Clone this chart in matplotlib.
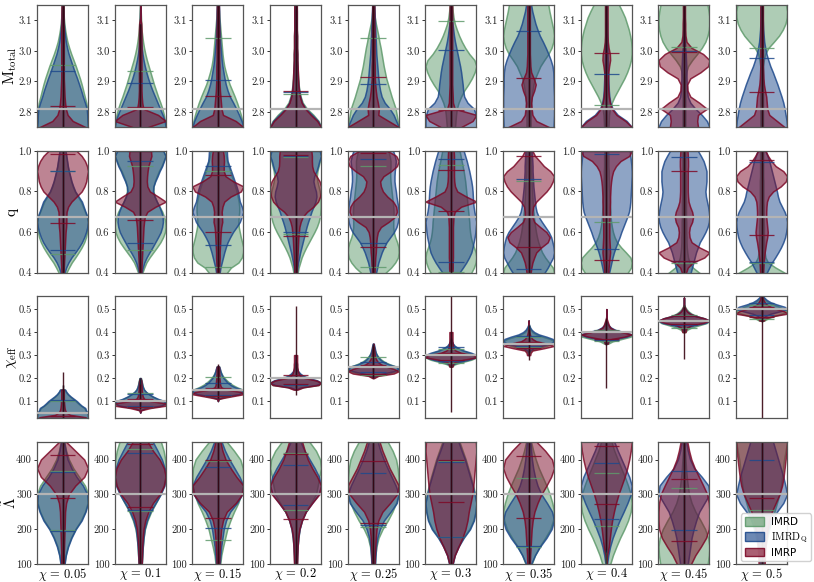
import numpy as np
import matplotlib
matplotlib.use("Agg")
import matplotlib.pyplot as plt
from matplotlib.patches import Patch
from matplotlib.colors import to_rgba

plt.rcParams['font.family'] = 'serif'
plt.rcParams['font.serif'] = ['cmr10', 'DejaVu Serif']
plt.rcParams['mathtext.fontset'] = 'cm'
plt.rcParams['axes.unicode_minus'] = False
plt.rcParams['axes.formatter.use_mathtext'] = True

# ---------------- data ----------------
CHI = [0.05, 0.1, 0.15, 0.2, 0.25, 0.3, 0.35, 0.4, 0.45, 0.5]
CHI_LABELS = ["0.05", "0.1", "0.15", "0.2", "0.25", "0.3", "0.35", "0.4", "0.45", "0.5"]
MODELS = ["IMRD", r"$\mathrm{IMRD_Q}$", "IMRP"]
COLORS = ["#5f9a6c", "#1f4a8c", "#7d0a28"]

TRUE_M = 2.81
TRUE_Q = 0.672
TRUE_LAMBDA = 302

# Row 1: total mass, relative violin widths (0-10) on grid
M_GRID = [2.73, 2.75, 2.77, 2.79, 2.81, 2.83, 2.85, 2.87, 2.89, 2.91, 2.93, 2.95,
          2.97, 2.99, 3.01, 3.03, 3.05, 3.07, 3.09, 3.11, 3.13, 3.15, 3.17]
M_IMRD = [
    [10,10,9.9,9.8,9.7,9.3,8.7,8.1,7.5,6.8,6.0,5.2,4.3,3.4,2.6,1.9,1.4,1.0,0.7,0.5,0.4,0.3,0.2],
    [10,10,9.7,9.3,8.7,7.9,7.0,6.2,5.4,4.7,4.0,3.3,2.6,2.0,1.5,1.1,0.8,0.5,0.4,0.3,0.2,0.1,0.1],
    [10,10,9.6,9.0,8.3,7.5,6.6,5.6,4.6,3.8,3.1,2.5,2.1,1.8,1.6,1.4,1.2,1.0,0.8,0.6,0.4,0.3,0.2],
    [10,10,9,7,4.5,2.8,2,1.5,1.2,1.0,0.9,0.8,0.7,0.7,0.6,0.6,0.6,0.5,0.5,0.5,0.5,0.4,0.4],
    [10,10,9.6,9.2,8.8,8.0,7.2,6.5,5.8,5.1,4.6,4.1,3.7,3.3,2.9,2.4,2.0,1.5,1.0,0.6,0.4,0.3,0.2],
    [1.5,1.6,1.8,2.0,2.3,3.0,4.0,5.2,6.8,8.2,9.3,10,9.2,7.2,5.6,4.3,3.2,2.3,1.5,1.0,0.7,0.5,0.4],
    [0.8,0.8,0.8,0.8,0.9,1.0,1.2,1.5,1.9,2.5,3.5,4.5,6.0,7.6,8.8,9.5,9.8,9.5,9.0,8.5,8.0,7.6,7.0],
    [0.8,0.8,0.9,1.0,1.3,2.0,3.0,4.2,5.4,6.6,7.6,8.4,9.0,9.3,9.3,9.1,8.7,8.2,7.5,6.8,5.8,4.7,3.6],
    [0.5,0.5,0.5,0.5,0.5,0.5,0.5,0.5,0.5,0.5,0.8,1.5,3.0,4.8,6.5,7.8,8.6,9.1,9.3,9.3,9.0,8.6,8.0],
    [0.5,0.5,0.5,0.5,0.5,0.5,0.5,0.5,0.5,0.5,0.5,0.5,0.8,1.3,2.5,4.5,6.4,7.8,8.8,9.3,9.4,9.0,8.5],
]
M_IMRDQ = [
    [10,10,9.8,9.7,9.5,8.8,8.0,7.3,6.5,5.7,4.8,4.0,3.2,2.4,1.8,1.3,1.0,0.7,0.5,0.4,0.3,0.2,0.1],
    [10,10,9.6,8.8,7.8,6.8,5.8,4.8,3.9,3.1,2.4,1.8,1.3,0.9,0.6,0.4,0.3,0.2,0.1,0.1,0.05,0,0],
    [10,10,9.3,8.3,7.2,6.0,4.7,3.8,3.1,2.6,2.2,1.8,1.5,1.3,1.1,0.9,0.8,0.7,0.6,0.5,0.5,0.4,0.4],
    [10,10,8.8,6.5,4.0,2.5,1.8,1.4,1.1,0.9,0.8,0.7,0.6,0.6,0.5,0.5,0.5,0.4,0.4,0.4,0.4,0.3,0.3],
    [10,10,9,8,6.5,4.5,3.3,2.7,2.3,2.0,1.8,1.6,1.4,1.2,1.1,1.0,0.9,0.8,0.7,0.6,0.5,0.4,0.3],
    [10,10,10,9.8,9,6.5,5.2,4.8,4.6,4.3,4.0,3.6,3.1,2.6,2.1,1.6,1.2,0.9,0.6,0.4,0.3,0.2,0.1],
    [9.5,9.6,9.7,9.8,9.8,9.8,9.8,9.7,9.6,9.6,9.5,9.2,8.5,7.6,6.6,5.5,4.3,3.4,2.6,2.0,1.4,1.0,0.7],
    [10,10,8,4.5,2.5,1.6,1.2,1.0,0.9,0.8,0.7,0.6,0.6,0.5,0.5,0.4,0.4,0.3,0.3,0.2,0.2,0.2,0.1],
    [10,10,9,7,4.5,2.5,1.5,1.2,1.1,1.0,1.0,0.9,0.8,0.7,0.5,0.4,0.3,0.3,0.2,0.2,0.1,0.1,0.1],
    [10,10,9.8,9.4,9.0,8.5,7.8,7.0,6.2,5.3,4.4,3.4,2.6,1.9,1.4,1.0,0.8,0.6,0.5,0.4,0.4,0.3,0.3],
]
M_IMRP = [
    [10,9,4,2,1.3,1.0,0.8,0.7,0.6,0.5,0.5,0.5,0.5,0.5,0.5,0.5,0.5,0.5,0.4,0.4,0.4,0.4,0.4],
    [1,3,10,7,1.2,0.8,0.6,0.5,0.5,0.5,0.5,0.5,0.5,0.5,0.5,0.5,0.5,0.5,0.4,0,0,0,0],
    [8,10,7,2,1.4,1.2,1.0,0.8,0.7,0.6,0.6,0.6,0.5,0.5,0.5,0.5,0.5,0.5,0.4,0.4,0.4,0.4,0.4],
    [10,10,8.5,6,3.8,2.4,1.7,1.3,1.1,1.0,0.9,0.8,0.7,0.7,0.6,0.6,0.6,0.5,0.5,0.5,0.5,0.5,0.5],
    [10,10,6,2,2.2,1.8,1.3,1.0,0.8,0.6,0.6,0.6,0.5,0.5,0.5,0.5,0.5,0.5,0.4,0.4,0.4,0.4,0.4],
    [3,4,8.5,10,1.5,0.8,0.7,0.6,0.5,0.5,0.5,0.5,0.5,0.5,0.5,0.5,0.5,0.5,0.5,0.5,0.5,0.5,0.5],
    [10,8,3,1.5,1.2,1.0,1.3,2.2,2.8,2.0,1.0,0.7,0.6,0.5,0.5,0.5,0.5,0.5,0.5,0.5,0.5,0.5,0.5],
    [10,10,7.5,4,2.2,1.4,1.0,0.8,0.7,0.7,0.8,1.1,1.5,1.4,0.9,0.6,0.5,0.5,0.5,0.5,0.5,0.5,0.5],
    [5,5.5,5.2,5.5,9,6,2.5,1.4,1.3,2.5,6.5,9.5,10,7.5,3.0,1.0,0.6,0.5,0.5,0.4,0.4,0.4,0.4],
    [10,9,6,3,2.2,2.0,1.8,1.3,0.9,0.7,0.6,0.5,0.5,0.5,0.5,0.5,0.5,0.5,0.5,0.5,0.5,0.5,0.5],
]
M_Q_IMRD = [(2.70,2.955),(2.70,2.935),(2.70,3.042),(2.70,2.857),(2.70,3.042),
            (2.812,3.097),(2.70,3.25),(2.822,3.2),(3.012,3.3),(3.011,3.3)]
M_Q_IMRDQ = [(2.70,2.935),(2.70,2.895),(2.70,2.905),(2.70,2.865),(2.70,2.892),
             (2.70,3.004),(2.70,3.067),(2.70,2.925),(2.70,3.0),(2.70,2.976)]
M_Q_IMRP = [(2.70,2.82),(2.70,2.815),(2.70,2.851),(2.70,2.87),(2.70,2.914),
            (2.70,2.805),(2.70,2.912),(2.70,2.993),(2.70,2.996),(2.70,2.866)]
M_EXT = [(2.6,3.3),(2.6,3.09),(2.6,3.3),(2.6,3.3),(2.6,3.3),
         (2.6,3.3),(2.6,3.3),(2.6,3.3),(2.6,3.3),(2.6,3.3)]

# Row 2: mass ratio q
Q_GRID = [0.375, 0.4, 0.425, 0.45, 0.475, 0.5, 0.525, 0.55, 0.575, 0.6, 0.625, 0.65, 0.675,
          0.7, 0.725, 0.75, 0.775, 0.8, 0.825, 0.85, 0.875, 0.9, 0.925, 0.95, 0.975, 1.0]
Q_IMRD = [
    [1.0,1.5,2.5,3.6,5.0,6.3,7.5,8.5,9.2,9.6,9.9,10,9.6,8.8,8.0,7.2,6.0,4.8,4.0,3.4,2.9,2.4,2.0,1.7,1.4,1.1],
    [0.5,0.8,1.5,2.3,3.5,4.9,6.3,7.6,8.6,9.3,9.6,9.5,9.0,8.3,7.3,6.3,5.5,5.0,5.0,5.5,6.2,7.0,8.0,8.8,9.5,8.8],
    [2.0,3.5,5.0,7.9,9.2,9.7,9.8,9.3,8.8,8.4,8.0,7.9,8.0,8.2,8.2,8.0,7.6,7.2,6.6,6.0,5.3,4.7,4.1,3.5,3.1,2.8],
    [0.5,0.7,1.0,1.5,2.0,2.7,3.5,4.4,5.3,6.2,7.0,7.6,8.0,8.2,8.3,8.3,8.2,8.0,7.6,7.2,7.0,7.2,7.6,8.0,8.4,8.0],
    [3.0,4.5,6.5,8.0,9.0,9.3,9.2,8.7,8.0,7.5,7.3,7.3,7.4,7.4,7.3,7.1,6.9,6.7,6.5,6.3,6.2,6.2,6.3,6.3,6.0,5.5],
    [6.5,8.0,9.0,9.7,10,9.7,9.0,8.3,7.8,7.5,7.3,7.2,7.0,6.8,6.6,6.4,6.2,6.0,5.8,5.6,5.3,5.0,4.6,4.2,3.8,3.4],
    [9.8,10,9.5,8.0,6.5,5.3,4.5,3.8,3.3,2.9,2.6,2.3,2.1,1.9,1.7,1.6,1.5,1.4,1.3,1.2,1.1,1.0,1.0,0.9,0.9,0.8],
    [6.0,8.0,9.2,9.5,9.0,7.3,5.5,4.0,3.1,2.5,2.1,1.8,1.6,1.5,1.4,1.3,1.2,1.1,1.0,1.0,0.9,0.9,0.8,0.8,0.8,0.7],
    [10,6.0,3.5,2.2,1.6,1.3,1.1,1.0,1.0,0.9,0.9,0.9,0.8,0.8,0.8,0.8,0.7,0.7,0.7,0.7,0.7,0.6,0.6,0.6,0.6,0.6],
    [10,9.0,5.5,2.5,1.5,1.2,1.0,1.0,0.9,0.9,0.9,0.8,0.8,0.8,0.8,0.7,0.7,0.7,0.7,0.7,0.6,0.6,0.6,0.6,0.6,0.6],
]
Q_IMRDQ = [
    [0.4,0.8,1.4,2.3,3.5,5.0,6.4,7.6,8.5,9.2,9.7,10,9.8,9.0,8.3,7.6,6.3,5.0,4.2,3.5,3.0,2.5,2.1,1.8,1.5,1.2],
    [0.3,0.5,1.0,1.6,2.5,3.6,4.8,5.9,7.0,8.0,8.6,8.9,8.8,8.3,7.5,6.5,5.6,5.0,5.2,5.9,6.8,7.6,8.6,9.3,10,9.0],
    [0.5,0.7,1.0,1.5,2.0,2.5,3.1,3.8,4.8,5.9,7.3,8.6,9.3,10,9.4,8.6,8.2,7.9,7.3,6.6,5.9,5.2,4.5,3.8,3.6,3.5],
    [0.3,0.5,0.7,1.0,1.4,1.8,2.3,2.8,3.3,3.8,4.3,4.9,5.6,6.2,7.0,7.8,8.2,8.0,7.4,7.0,7.3,8.2,8.8,9.3,10,9.5],
    [0.7,1.0,1.4,1.8,2.4,3.0,3.8,4.7,6.0,7.3,8.2,8.7,9.0,9.0,8.8,8.5,8.2,8.0,7.7,7.5,7.5,7.6,7.8,8.0,7.6,7.0],
    [2.2,3.3,4.7,6.0,7.1,8.0,8.5,8.9,9.3,9.6,9.8,10,9.6,9.2,8.9,8.7,8.6,8.5,8.3,8.0,7.6,7.2,6.7,6.2,5.6,5.0],
    [5.0,6.0,7.2,8.2,9.2,9.6,9.4,9.0,8.5,7.6,6.3,5.0,3.8,3.0,2.6,2.4,2.2,2.0,1.8,1.7,1.6,1.5,1.5,1.4,1.3,1.2],
    [0.7,1.0,1.4,1.8,2.2,2.7,3.3,4.0,4.7,5.3,6.0,6.7,7.4,8.0,8.3,8.5,8.6,8.7,8.8,8.9,9.0,9.0,8.9,8.7,8.5,8.3],
    [2.0,2.5,3.0,3.5,4.0,4.5,5.2,5.9,7.0,8.0,8.8,9.3,9.5,9.3,9.0,8.6,8.2,8.0,8.2,8.4,8.4,8.4,7.9,7.3,6.3,5.2],
    [1.2,2.0,3.0,4.0,5.3,6.5,7.6,8.5,9.2,9.6,9.9,10,9.7,9.0,8.0,7.0,6.4,6.0,5.5,5.0,4.5,4.0,3.5,3.0,2.3,1.5],
]
Q_IMRP = [
    [0.3,0.4,0.5,0.6,0.7,0.8,0.9,1.0,1.1,1.2,1.4,1.5,1.5,1.6,2.2,3.5,5.5,7.5,8.6,9.3,9.6,10,9.6,8.8,7.5,5.5],
    [0.3,0.4,0.5,0.6,0.7,0.8,0.9,1.0,1.1,1.2,1.3,1.5,1.8,2.8,6.0,10,7.0,3.8,2.8,2.6,2.7,2.9,3.2,3.8,4.4,4.2],
    [0.3,0.4,0.5,0.6,0.7,0.7,0.8,0.9,1.0,1.1,1.3,1.7,1.6,1.5,1.8,2.5,5.0,9.0,10,6.0,3.0,2.3,2.3,2.4,2.3,2.0],
    [0.4,0.5,0.5,0.6,0.7,0.8,0.9,1.0,1.1,1.3,1.5,2.0,2.8,4.5,7.0,8.8,9.6,10,10,9.4,8.2,7.0,6.5,6.4,6.4,6.2],
    [0.4,0.5,0.6,0.7,0.8,1.0,1.1,1.2,1.4,1.8,3.0,6.0,8.5,9.3,9.0,7.8,5.5,3.8,3.0,2.7,4.0,7.0,9.3,10,9.0,5.5],
    [0.5,0.6,0.7,0.7,0.8,0.8,0.8,0.8,0.8,0.8,0.8,0.9,1.0,1.5,4.0,10,6.0,2.5,1.6,1.3,1.2,1.2,1.2,1.2,1.2,1.1],
    [0.6,0.8,1.1,1.5,2.2,3.0,5.0,7.5,8.3,7.0,4.5,2.2,1.5,1.5,1.8,3.0,5.0,7.0,8.5,9.5,10,8.5,6.0,4.3,2.5,1.5],
    [0.7,0.8,0.9,1.1,1.3,1.5,1.4,1.3,1.2,1.2,1.2,1.2,1.3,1.4,1.4,1.5,1.5,1.6,1.7,1.9,2.2,2.7,3.8,5.6,9.0,10],
    [0.6,0.8,1.5,3.5,8.0,10,6.0,3.0,2.2,2.0,2.3,3.2,3.6,3.2,2.4,1.8,1.6,1.5,1.5,1.5,1.5,1.5,1.6,1.6,1.5,1.4],
    [0.5,0.6,0.7,0.8,1.0,1.2,1.5,1.8,2.2,2.4,2.2,2.0,1.8,1.8,1.9,2.1,2.8,4.5,7.5,9.5,10,8.5,5.5,3.8,2.5,1.5],
]
Q_Q_IMRD = [(0.494,0.90),(0.511,0.925),(0.43,0.90),(0.59,0.97),(0.43,0.926),
            (0.403,0.93),(0.38,0.85),(0.38,0.648),(0.30,0.45),(0.30,0.448)]
Q_Q_IMRDQ = [(0.511,0.90),(0.548,0.948),(0.535,0.926),(0.60,0.975),(0.545,0.96),
             (0.455,0.958),(0.417,0.862),(0.515,0.983),(0.46,0.97),(0.451,0.943)]
Q_Q_IMRP = [(0.645,0.985),(0.659,1.0),(0.60,0.88),(0.58,0.979),(0.528,0.99),
            (0.703,0.906),(0.528,0.974),(0.463,1.0),(0.46,0.90),(0.585,0.954)]
Q_EXT = [(0.3,1.0)] * 10

# Row 3: effective spin, grid offsets relative to each chi
X_OFFSETS = [-0.05, -0.04, -0.03, -0.02, -0.01, 0.0, 0.01, 0.02, 0.03, 0.04,
             0.05, 0.06, 0.07, 0.08, 0.09, 0.10]
X_IMRD = [
    [10,10,10,10,10,9.6,9,8.5,7.2,6.1,5.1,4,2.9,2,1.3,0.9],
    [0,0.3,2.5,8.5,10,9.3,6.5,4.7,3.3,2.2,1.5,1.1,0.9,0.7,0.5,0.3],
    [0,0.5,3.5,8.5,10,9.7,7.5,5.8,4.5,3.5,2.6,1.9,1.4,1.0,0.7,0.5],
    [0,3,9,10,8,4.5,2.6,1.5,0.9,0.5,0.3,0.2,0.1,0,0,0],
    [0,1.5,6,9,10,9,6.5,4.5,3.2,2.2,1.5,1.0,0.6,0.4,0.2,0],
    [0.3,1.5,4.5,8,10,9.5,7,4.5,2.5,1.3,0.6,0.3,0.1,0,0,0],
    [0,0.2,1,3.5,7,9.5,10,8.5,5.5,3,1.5,0.8,0.3,0.1,0,0],
    [0.8,2.5,6,9.5,10,6,3,1.5,0.7,0.3,0.1,0,0,0,0,0],
    [0.5,1.2,3,6,9,10,8,5,3,1.8,1.0,0.4,0.1,0,0,0],
    [1,2.5,5,8,10,9,7,4.5,2.6,1.4,0.7,0.3,0,0,0,0],
]
X_IMRDQ = [
    [10,10,10,10,10,9.8,9.2,8.9,7.5,6.5,5.6,4.4,3.2,2.2,1.5,1.0],
    [0,0.2,2,8,10,9.5,6.9,5.0,3.5,2.3,1.5,1.1,0.8,0.6,0.4,0.2],
    [0,0.3,2.5,8,10,9.5,6.7,5.0,3.8,3.0,2.2,1.7,1.3,1.0,0.8,0.5],
    [0,2,8,10,8.5,5.0,3.0,1.8,1.0,0.6,0.4,0.3,0.2,0.1,0,0],
    [0,0.5,4,8,10,9,6,4,2.8,2.0,1.4,1.0,0.8,0.6,0.4,0.2],
    [0,0.8,3,7,9.5,10,8,5,3,1.5,0.8,0.4,0.2,0,0,0],
    [0,0,0.5,2,5,8.5,10,9.5,7,4,2.2,1.2,0.6,0.2,0,0],
    [0.2,1,3.5,8,10,7,3.5,1.8,0.9,0.4,0.1,0,0,0,0,0],
    [0,0.3,1.2,4,8.5,10,8,4.5,2.5,1.3,0.6,0.2,0,0,0,0],
    [0.2,0.6,1.5,3.5,7,10,9,6,3.5,2,1,0.5,0.2,0,0,0],
]
X_IMRP = [
    [10,10,10,9,3,1.5,1.0,0.8,0.7,0.6,0.6,0.5,0.5,0.5,0.5,0.5],
    [0,0.3,4,10,10,4,1.5,1.0,0.8,0.7,0.6,0.6,0.5,0.5,0.4,0],
    [0,0.3,5,10,9,3,1.3,0.9,0.8,0.7,0.6,0.6,0.5,0.5,0.5,0.4],
    [0.8,3,9,10,8,3.5,1.8,1.2,0.9,0.8,0.7,0.7,0.6,0.6,0.6,0.6],
    [0.3,2,8,10,8,5,3,1.8,1.2,0.8,0.6,0.5,0.4,0.3,0.2,0],
    [0.6,0.8,1.5,5,10,9,4,1.8,1.0,0.8,0.7,0.6,0.6,0.6,0.6,0.6],
    [0.6,0.8,1.5,6,10,7,3,1.5,0.8,0.5,0.3,0.2,0,0,0,0],
    [0.6,0.8,2,7,10,6,3,1.5,1.0,0.7,0.4,0.1,0,0,0,0],
    [0.6,0.8,1.2,3,7.5,10,8,4.5,2.3,1.2,0.6,0.3,0,0,0,0],
    [0.8,1.5,4.5,10,9,6,3.5,2,1.2,0.7,0.4,0.2,0,0,0,0],
]
X_Q_IMRD = [(0.02,0.10),(0.075,0.136),(0.123,0.203),(0.171,0.205),(0.215,0.29),
            (0.265,0.325),(0.335,0.38),(0.36,0.41),(0.42,0.475),(0.455,0.52)]
X_Q_IMRDQ = [(0.02,0.103),(0.078,0.13),(0.125,0.18),(0.17,0.205),(0.225,0.27),
             (0.275,0.336),(0.34,0.385),(0.365,0.405),(0.43,0.47),(0.475,0.525)]
X_Q_IMRP = [(0.02,0.035),(0.075,0.107),(0.12,0.155),(0.175,0.212),(0.22,0.255),
            (0.28,0.31),(0.33,0.355),(0.37,0.405),(0.435,0.47),(0.465,0.51)]
X_EXT_IMRD = [(0.02,0.17),(0.07,0.20),(0.115,0.25),(0.16,0.26),(0.205,0.34),
              (0.25,0.37),(0.305,0.43),(0.345,0.45),(0.40,0.52),(0.445,0.56)]
X_EXT_IMRDQ = [(0.02,0.17),(0.07,0.20),(0.115,0.255),(0.155,0.27),(0.205,0.35),
               (0.255,0.375),(0.315,0.43),(0.345,0.45),(0.41,0.51),(0.445,0.57)]
X_EXT_IMRP = [(0.02,0.225),(0.065,0.175),(0.115,0.26),(0.125,0.515),(0.2,0.34),
              (0.054,0.56),(0.28,0.415),(0.155,0.46),(0.285,0.51),(0.0,0.56)]

# Row 4: tidal deformability
L_GRID = [75, 100, 125, 150, 175, 200, 225, 250, 275, 300, 325, 350, 375, 400, 425, 450, 475]
L_IMRD = [
    [0.4,0.7,1.2,2.0,3.3,5.0,7.2,8.8,9.8,10,8.8,6.5,4.2,2.5,1.4,0.7,0.3],
    [0.4,0.6,0.8,1.0,1.3,1.8,2.8,4.2,6.0,7.8,9.0,9.6,9.8,9.6,9.0,8.0,6.5],
    [0.6,0.9,1.3,2.0,2.8,3.6,4.8,6.2,7.8,9.0,9.6,9.8,9.6,8.6,6.2,3.5,1.8],
    [0.4,0.5,0.6,0.8,1.1,1.5,2.5,4.0,6.0,8.0,8.7,9.3,10,9.6,8.0,5.5,3.0],
    [0.4,0.6,0.8,1.2,2.0,3.5,5.5,7.2,8.6,9.5,9.6,9.5,9.2,8.6,7.3,5.5,3.5],
    [0.3,0.6,1.4,2.8,4.8,7.2,8.8,9.6,10,9.5,8.7,7.8,6.8,5.8,4.6,3.4,2.3],
    [0.5,1.2,2.5,4.3,6.5,8.5,9.6,10,9.3,8.3,7.0,5.5,4.0,2.8,1.8,1.0,0.5],
    [0.8,1.5,2.5,3.8,5.2,6.8,8.2,9.2,9.6,9.2,8.2,7.0,5.6,4.3,3.0,2.0,1.2],
    [8.5,9.3,9.8,10,9.5,8.3,6.5,4.5,3.0,2.0,1.5,1.1,0.8,0.6,0.4,0.3,0.2],
    [0.5,0.8,1.1,1.5,2.2,3.0,4.0,5.0,6.0,7.0,7.6,8.0,8.4,8.8,9.4,10,9.8],
]
L_IMRDQ = [
    [0.5,0.8,1.3,2.2,3.5,5.2,7.5,9.0,10,9.7,8.0,5.5,3.5,2.0,1.2,0.6,0.3],
    [0.4,0.6,0.8,1.0,1.3,1.7,2.6,4.0,6.0,8.0,9.5,10,9.6,8.5,6.8,5.0,3.3],
    [0.5,0.7,1.0,1.3,1.8,2.3,3.2,4.8,7.5,9.5,10,8.5,6.5,4.5,2.8,1.5,0.8],
    [0.4,0.5,0.6,0.8,1.1,1.6,2.5,4.0,6.5,9.0,10,9.2,7.5,5.5,3.5,2.0,1.0],
    [0.5,0.7,0.9,1.1,1.6,2.6,4.2,6.8,9.2,10,8.8,7.2,5.6,4.1,2.8,1.8,1.0],
    [0.3,0.7,1.5,3.0,5.0,7.5,9.0,9.7,10,9.3,8.5,7.5,6.5,5.5,4.2,3.0,2.0],
    [0.4,1.0,2.5,4.5,7.0,9.0,10,9.2,7.2,5.0,3.5,2.5,1.8,1.3,1.0,0.7,0.5],
    [0,0.3,0.8,1.5,2.5,3.8,5.2,6.8,8.3,9.6,10,9.0,7.5,6.0,4.5,3.2,2.0],
    [1.2,1.5,2.0,2.5,3.0,3.8,4.8,6.0,8.0,10,9.6,7.0,4.0,2.4,1.5,0.9,0.5],
    [0.3,0.5,0.8,1.1,1.6,2.5,4.0,6.0,8.5,10,9.3,8.5,7.5,6.5,5.5,4.5,3.5],
]
L_IMRP = [
    [0.4,0.5,0.5,0.6,0.7,0.8,0.9,1.0,1.4,2.5,5.0,8.5,10,8.5,5.0,1.5,0.3],
    [0.4,0.6,0.7,0.8,1.0,1.3,2.0,3.2,5.0,7.6,9.3,10,9.3,7.6,5.0,3.0,1.5],
    [0.4,0.5,0.6,0.8,1.0,1.3,2.0,3.5,7.0,9.5,10,7.3,5.0,3.0,1.8,1.0,0.6],
    [0.5,0.6,0.7,0.8,1.0,1.5,2.5,4.0,6.5,9.3,10,8.5,6.5,4.8,3.6,2.6,1.8],
    [0.4,0.5,0.6,0.8,1.0,1.3,2.0,3.6,6.6,9.3,10,8.2,6.4,5.0,3.6,2.5,1.6],
    [0.3,0.6,1.5,3.0,4.5,5.7,6.5,7.0,7.7,8.4,8.8,9.1,9.4,9.7,10,9.8,9.0],
    [0.3,0.5,0.6,0.8,1.0,1.2,1.6,2.3,3.5,5.0,7.0,8.8,10,9.2,6.5,3.2,1.2],
    [0,0,0.3,1.0,1.4,1.8,2.3,3.0,3.8,4.8,6.0,7.2,8.2,9.0,9.6,10,9.5],
    [1.5,2.5,4.0,6.0,7.8,8.8,9.0,9.0,8.8,8.2,6.8,5.3,3.8,2.6,1.8,1.2,0.8],
    [1.0,1.2,1.3,1.5,1.8,2.3,3.0,4.0,5.5,7.0,8.0,8.6,9.0,9.4,9.8,10,9.6],
]
L_Q_IMRD = [(197,368),(252,429),(168,395),(255,420),(205,450),(176,395),(148,347),(208,360),(90,318),(255,470)]
L_Q_IMRDQ = [(195,365),(256,420),(203,378),(270,383),(211,362),(178,392),(152,305),(230,390),(198,367),(240,400)]
L_Q_IMRP = [(290,412),(263,445),(232,400),(228,415),(217,395),(277,398),(232,410),(272,440),(166,345),(290,470)]
L_EXT_IMRD = [(90,470)] * 10
L_EXT_IMRDQ = [(90,470),(90,470),(90,470),(90,470),(90,470),(90,470),(90,470),(135,470),(90,470),(90,470)]
L_EXT_IMRP = [(100,455),(100,470),(100,470),(100,470),(100,470),(100,470),(100,470),(140,470),(90,470),(90,470)]

ROW_YLIM = [(2.75, 3.15), (0.4, 1.0), (0.025, 0.555), (100, 450)]
ROW_TICKS = [[2.8, 2.9, 3.0, 3.1], [0.4, 0.6, 0.8, 1.0], [0.1, 0.2, 0.3, 0.4, 0.5], [100, 200, 300, 400]]
ROW_TICKLABELS = [["2.8", "2.9", "3.0", "3.1"], ["0.4", "0.6", "0.8", "1.0"],
                  ["0.1", "0.2", "0.3", "0.4", "0.5"], ["100", "200", "300", "400"]]
ROW_LABELS = [r"$\mathrm{M_{total}}$", "q", r"$\chi_{\rm eff}$", r"$\tilde{\Lambda}$"]


def darker(c, f=0.45):
    r, g, b, _ = to_rgba(c)
    return (r * f, g * f, b * f, 0.9)


def draw_violin(ax, grid, widths, quant, ext, color):
    stats = {
        'coords': np.asarray(grid, dtype=float),
        'vals': np.asarray(widths, dtype=float),
        'mean': np.nan, 'median': np.nan,
        'min': ext[0], 'max': ext[1],
        'quantiles': np.asarray(quant, dtype=float),
    }
    parts = ax.violin([stats], positions=[0], widths=1.0,
                      showmeans=False, showextrema=True, showmedians=False)
    for b in parts['bodies']:
        b.set_alpha(None)
        b.set_facecolor(to_rgba(color, 0.5))
        b.set_edgecolor(to_rgba(color, 0.85))
        b.set_linewidth(1.1)
    parts['cmins'].set_visible(False)
    parts['cmaxes'].set_visible(False)
    parts['cbars'].set_color(darker(color))
    parts['cbars'].set_linewidth(1.0)
    if 'cquantiles' in parts:
        parts['cquantiles'].set_color(to_rgba(color, 0.85))
        parts['cquantiles'].set_linewidth(0.9)


fig = plt.figure(figsize=(8.14, 5.82), dpi=100)
gs = fig.add_gridspec(4, 10, left=0.0455, right=0.967, top=0.991, bottom=0.031,
                      wspace=0.523, hspace=0.195)

rows = [
    ([M_IMRD, M_IMRDQ, M_IMRP], [M_Q_IMRD, M_Q_IMRDQ, M_Q_IMRP], [M_EXT, M_EXT, M_EXT]),
    ([Q_IMRD, Q_IMRDQ, Q_IMRP], [Q_Q_IMRD, Q_Q_IMRDQ, Q_Q_IMRP], [Q_EXT, Q_EXT, Q_EXT]),
    ([X_IMRD, X_IMRDQ, X_IMRP], [X_Q_IMRD, X_Q_IMRDQ, X_Q_IMRP], [X_EXT_IMRD, X_EXT_IMRDQ, X_EXT_IMRP]),
    ([L_IMRD, L_IMRDQ, L_IMRP], [L_Q_IMRD, L_Q_IMRDQ, L_Q_IMRP], [L_EXT_IMRD, L_EXT_IMRDQ, L_EXT_IMRP]),
]

for r, (wsets, qsets, esets) in enumerate(rows):
    for c in range(10):
        ax = fig.add_subplot(gs[r, c])
        if r == 0:
            grid, truth = M_GRID, TRUE_M
        elif r == 1:
            grid, truth = Q_GRID, TRUE_Q
        elif r == 2:
            grid, truth = [CHI[c] + o for o in X_OFFSETS], CHI[c]
        else:
            grid, truth = L_GRID, TRUE_LAMBDA
        for k in range(3):
            draw_violin(ax, grid, wsets[k][c], qsets[k][c], esets[k][c], COLORS[k])
        ax.axhline(truth, color='#b4b4b4', lw=1.6, zorder=6)
        ax.set_xlim(-0.5, 0.5)
        ax.set_ylim(*ROW_YLIM[r])
        ax.set_xticks([])
        ax.set_yticks(ROW_TICKS[r])
        ax.set_yticklabels(ROW_TICKLABELS[r])
        ax.tick_params(axis='y', labelsize=7.6, length=2.5, width=0.7, pad=1.2,
                       colors='#333333', labelcolor='#222222')
        for s in ax.spines.values():
            s.set_color('#555555')
            s.set_linewidth(0.9)
        if c == 0:
            ax.set_ylabel(ROW_LABELS[r], fontsize=11)
            ax.yaxis.set_label_coords(-0.36, 0.5)
        if r == 3:
            ax.set_xlabel(r"$\chi\, =\, " + CHI_LABELS[c] + "$", fontsize=9, labelpad=1.5)

handles = [Patch(facecolor=to_rgba(col, 0.65), edgecolor=to_rgba(col, 0.9), linewidth=1.0)
           for col in COLORS]
leg = fig.legend(handles, MODELS, loc='lower right', bbox_to_anchor=(1.0, 0.03),
                 prop={'family': 'DejaVu Sans', 'size': 7.5}, frameon=True,
                 handlelength=1.9, handleheight=0.9, borderpad=0.35, labelspacing=0.3,
                 handletextpad=0.6, borderaxespad=0.3, fancybox=True)
leg.get_frame().set_edgecolor('#cccccc')
leg.get_frame().set_alpha(0.9)

fig.savefig("out.png", dpi=100)
